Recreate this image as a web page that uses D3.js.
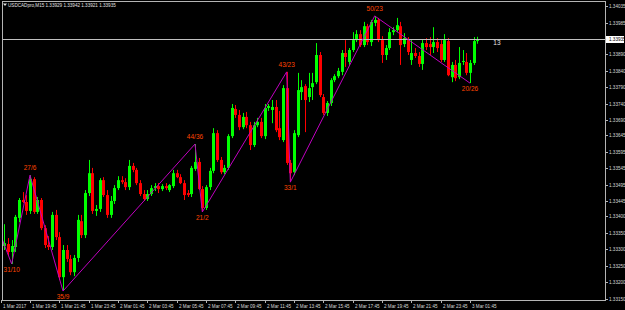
<!DOCTYPE html>
<html>
<head>
<meta charset="utf-8">
<script src="https://cdn.jsdelivr.net/npm/d3@7/dist/d3.min.js"></script>
<style>
body { margin: 0; background: #000; }
svg { display: block; }
text { font-family: "Liberation Sans", Arial, sans-serif; }
</style>
</head>
<body>
<svg id="chart" width="625" height="310"></svg>
<script>
// USDCADpro M15, one value per bar
var opens = [1.33449,1.33310,1.33316,1.33292,1.33307,1.33395,1.33449,1.33443,1.33416,1.33512,
	1.33413,1.33449,1.33364,1.33313,1.33307,1.33404,1.33337,1.33216,1.33298,1.33271,
	1.33231,1.33274,1.33385,1.33343,1.33470,1.33530,1.33416,1.33422,1.33509,1.33464,
	1.33404,1.33446,1.33485,1.33509,1.33503,1.33488,1.33552,1.33540,1.33500,1.33467,
	1.33452,1.33467,1.33485,1.33491,1.33482,1.33491,1.33479,1.33491,1.33530,1.33518,
	1.33500,1.33470,1.33467,1.33543,1.33564,1.33482,1.33425,1.33488,1.33537,1.33651,
	1.33570,1.33533,1.33546,1.33642,1.33724,1.33706,1.33669,1.33700,1.33675,1.33615,
	1.33675,1.33685,1.33642,1.33727,1.33721,1.33730,1.33666,1.33630,1.33787,1.33561,
	1.33533,1.33645,1.33775,1.33793,1.33760,1.33790,1.33805,1.33887,1.33760,1.33712,
	1.33742,1.33811,1.33823,1.33836,1.33893,1.33866,1.33902,1.33932,1.33950,1.33917,
	1.33974,1.33926,1.33984,1.33993,1.33932,1.33887,1.33908,1.33956,1.33962,1.33974,
	1.33920,1.33932,1.33872,1.33893,1.33884,1.33860,1.33923,1.33920,1.33911,1.33926,
	1.33920,1.33872,1.33929,1.33820,1.33857,1.33820,1.33866,1.33866,1.33833,1.33863,
	1.33929];
var highs = [1.33464,1.33376,1.33334,1.33328,1.33404,1.33455,1.33473,1.33464,1.33524,1.33518,
	1.33458,1.33455,1.33373,1.33340,1.33413,1.33419,1.33352,1.33313,1.33313,1.33283,
	1.33283,1.33404,1.33404,1.33479,1.33570,1.33546,1.33434,1.33515,1.33518,1.33479,
	1.33461,1.33494,1.33521,1.33521,1.33515,1.33570,1.33561,1.33546,1.33509,1.33479,
	1.33479,1.33494,1.33500,1.33500,1.33497,1.33500,1.33497,1.33540,1.33540,1.33527,
	1.33509,1.33479,1.33552,1.33618,1.33576,1.33491,1.33494,1.33546,1.33666,1.33660,
	1.33579,1.33555,1.33648,1.33739,1.33736,1.33721,1.33712,1.33715,1.33685,1.33685,
	1.33697,1.33697,1.33739,1.33739,1.33751,1.33751,1.33718,1.33796,1.33836,1.33570,
	1.33660,1.33833,1.33811,1.33799,1.33833,1.33833,1.33923,1.33896,1.33769,1.33748,
	1.33817,1.33829,1.33848,1.33902,1.33932,1.33908,1.33956,1.33962,1.33962,1.33987,
	1.33981,1.33993,1.34005,1.33999,1.33944,1.33917,1.33968,1.33971,1.33999,1.33987,
	1.33953,1.33941,1.33932,1.33908,1.33896,1.33932,1.33938,1.33941,1.33971,1.33938,
	1.33932,1.33950,1.33938,1.33866,1.33872,1.33911,1.33902,1.33893,1.33872,1.33941,
	1.33942];
var lows = [1.33304,1.33298,1.33280,1.33256,1.33292,1.33382,1.33440,1.33404,1.33407,1.33407,
	1.33407,1.33358,1.33304,1.33298,1.33298,1.33328,1.33207,1.33174,1.33262,1.33222,
	1.33219,1.33262,1.33334,1.33334,1.33461,1.33407,1.33401,1.33413,1.33458,1.33395,
	1.33395,1.33437,1.33479,1.33497,1.33479,1.33479,1.33533,1.33494,1.33461,1.33446,
	1.33446,1.33461,1.33476,1.33470,1.33476,1.33479,1.33473,1.33485,1.33515,1.33497,
	1.33449,1.33458,1.33458,1.33537,1.33479,1.33413,1.33419,1.33479,1.33530,1.33564,
	1.33527,1.33527,1.33540,1.33636,1.33697,1.33660,1.33663,1.33666,1.33600,1.33609,
	1.33669,1.33636,1.33633,1.33718,1.33681,1.33654,1.33630,1.33624,1.33555,1.33503,
	1.33524,1.33639,1.33751,1.33654,1.33745,1.33751,1.33799,1.33760,1.33706,1.33703,
	1.33733,1.33805,1.33817,1.33826,1.33851,1.33857,1.33896,1.33926,1.33911,1.33911,
	1.33917,1.33914,1.33974,1.33926,1.33863,1.33872,1.33902,1.33947,1.33956,1.33857,
	1.33911,1.33887,1.33857,1.33878,1.33851,1.33842,1.33902,1.33887,1.33893,1.33896,
	1.33866,1.33866,1.33823,1.33805,1.33808,1.33814,1.33857,1.33826,1.33802,1.33857,
	1.33921];
var closes = [1.33313,1.33319,1.33292,1.33310,1.33398,1.33449,1.33443,1.33416,1.33512,1.33413,
	1.33449,1.33364,1.33313,1.33307,1.33404,1.33337,1.33216,1.33298,1.33271,1.33231,
	1.33274,1.33389,1.33343,1.33470,1.33530,1.33416,1.33422,1.33509,1.33464,1.33404,
	1.33446,1.33485,1.33509,1.33503,1.33488,1.33552,1.33540,1.33500,1.33467,1.33452,
	1.33467,1.33485,1.33491,1.33482,1.33491,1.33485,1.33494,1.33530,1.33518,1.33500,
	1.33464,1.33464,1.33546,1.33564,1.33482,1.33425,1.33488,1.33537,1.33651,1.33570,
	1.33533,1.33546,1.33642,1.33727,1.33706,1.33669,1.33700,1.33675,1.33615,1.33675,
	1.33685,1.33642,1.33727,1.33733,1.33730,1.33660,1.33639,1.33787,1.33561,1.33530,
	1.33651,1.33781,1.33790,1.33751,1.33787,1.33802,1.33887,1.33766,1.33712,1.33742,
	1.33811,1.33823,1.33839,1.33893,1.33881,1.33902,1.33932,1.33950,1.33917,1.33974,
	1.33926,1.33987,1.33993,1.33932,1.33887,1.33908,1.33956,1.33962,1.33977,1.33917,
	1.33938,1.33896,1.33893,1.33884,1.33860,1.33923,1.33911,1.33911,1.33926,1.33908,
	1.33872,1.33932,1.33826,1.33857,1.33817,1.33863,1.33869,1.33833,1.33863,1.33929,
	1.33935];

// zigzag turning points (bar index, price, label); first one lies left of the window
var zzBars = [-2, 3, 8, 17, 53, 55, 78, 79, 102, 128];
var zzPrices = [1.33399, 1.33256, 1.33524, 1.33174, 1.33618, 1.33413, 1.33836, 1.33503, 1.34005, 1.33802];
var zzLabels = ["", "31/10", "27/6", "35/9", "44/36", "21/2", "43/23", "33/1", "50/23", "20/26"];

var priceTicks = ["1.34035","1.33985","1.33890","1.33840","1.33790","1.33740","1.33690","1.33645",
	"1.33595","1.33545","1.33495","1.33445","1.33400","1.33350","1.33300","1.33250","1.33200","1.33150"];
var timeTickBars = [0, 8, 16, 24, 32, 40, 48, 56, 64, 72, 80, 88, 96, 104, 112, 120, 128];
var timeTickLabels = ["1 Mar 2017","1 Mar 19:45","1 Mar 21:45","1 Mar 23:45","2 Mar 01:45","2 Mar 03:45",
	"2 Mar 05:45","2 Mar 07:45","2 Mar 09:45","2 Mar 11:45","2 Mar 13:45","2 Mar 15:45","2 Mar 17:45",
	"2 Mar 19:45","2 Mar 21:45","2 Mar 23:45","3 Mar 01:45"];

var c_left = 2, c_right = 605, c_top = 1, c_bottom = 300;
var frameColor = "#b4b4b4";
var upColor = "#00ff00", downColor = "#ff0000";

var svg = d3.select("#chart");
svg.append("rect").attr("width", 625).attr("height", 310).style("fill", "#000");

var x = d3.scaleLinear().domain([0, 128]).range([0.67, 470]);
var y = d3.scaleLinear().domain([1.33150, 1.34035]).range([299, 6]);

svg.append("clipPath").attr("id", "plot")
	.append("rect")
	.attr("x", c_left).attr("y", c_top)
	.attr("width", c_right - c_left).attr("height", c_bottom - c_top);

var plot = svg.append("g").attr("clip-path", "url(#plot)");

var bars = d3.range(opens.length);

// wicks
plot.selectAll(".wick")
	.data(bars)
	.enter()
	.append("line")
	.attr("class", "wick")
	.attr("x1", function(i) { return Math.round(x(i)) + 0.5; })
	.attr("x2", function(i) { return Math.round(x(i)) + 0.5; })
	.attr("y1", function(i) { return y(highs[i]); })
	.attr("y2", function(i) { return y(lows[i]); })
	.style("stroke", function(i) { return closes[i] >= opens[i] ? upColor : downColor; })
	.style("stroke-width", 1);

// bodies
plot.selectAll(".body")
	.data(bars)
	.enter()
	.append("rect")
	.attr("class", "body")
	.attr("x", function(i) { return Math.round(x(i)) - 1; })
	.attr("y", function(i) { return y(Math.max(opens[i], closes[i])); })
	.attr("width", 3)
	.attr("height", function(i) { return Math.max(1, Math.abs(y(opens[i]) - y(closes[i]))); })
	.style("fill", function(i) { return closes[i] >= opens[i] ? upColor : downColor; });

// current price line
var last = closes[closes.length - 1];
plot.append("line")
	.attr("x1", c_left).attr("x2", c_right)
	.attr("y1", Math.round(y(last)) + 0.5).attr("y2", Math.round(y(last)) + 0.5)
	.style("stroke", "#c0c0c0")
	.style("stroke-width", 1);

// zigzag
var zz = zzBars.map(function(b, k) { return { bar: b, price: zzPrices[k], label: zzLabels[k] }; });
var zzLine = d3.line()
	.x(function(d) { return x(d.bar); })
	.y(function(d) { return y(d.price); });
plot.append("path")
	.datum(zz)
	.attr("d", zzLine)
	.style("fill", "none")
	.style("stroke", "#c000c0")
	.style("stroke-width", 1);

plot.selectAll(".zzlab")
	.data(zz.slice(1))
	.enter()
	.append("text")
	.attr("class", "zzlab")
	.attr("x", function(d) { return x(d.bar); })
	.attr("y", function(d, k) {
		var prev = zz[k];
		return d.price > prev.price ? y(d.price) - 5 : y(d.price) + 8;
	})
	.style("text-anchor", "middle")
	.style("font-size", "6.5px")
	.style("fill", "#ff4500")
	.text(function(d) { return d.label; });

// countdown
svg.append("text")
	.attr("x", x(130) + 16)
	.attr("y", y(last) + 6)
	.style("font-size", "6.5px")
	.style("fill", "#e8e8e8")
	.text("13");

// frame
svg.append("rect")
	.attr("x", c_left + 0.5).attr("y", c_top + 0.5)
	.attr("width", c_right - c_left).attr("height", c_bottom - c_top)
	.style("fill", "none")
	.style("stroke", frameColor);

// price axis
var pAxis = svg.append("g");
priceTicks.forEach(function(t) {
	var py = Math.round(y(+t)) + 0.5;
	pAxis.append("line")
		.attr("x1", c_right).attr("x2", c_right + 3)
		.attr("y1", py).attr("y2", py)
		.style("stroke", frameColor);
	pAxis.append("text")
		.attr("x", c_right + 4)
		.attr("y", py + 1.7)
		.style("font-size", "4.6px")
		.style("fill", "#d8d8d8")
		.text(t);
});

var ly = Math.round(y(last)) + 0.5;
pAxis.append("rect")
	.attr("x", c_right + 1).attr("y", ly - 3.5)
	.attr("width", 18).attr("height", 7)
	.style("fill", "#ffffff");
pAxis.append("text")
	.attr("x", c_right + 4)
	.attr("y", ly + 1.7)
	.style("font-size", "4.6px")
	.style("fill", "#000")
	.text(d3.format(".5f")(last));

// time axis
var tAxis = svg.append("g");
timeTickBars.forEach(function(b, k) {
	var tx = Math.round(x(b)) + 0.5;
	tAxis.append("line")
		.attr("x1", tx).attr("x2", tx)
		.attr("y1", c_bottom).attr("y2", c_bottom + 3)
		.style("stroke", frameColor);
	tAxis.append("text")
		.attr("x", tx + 1.5)
		.attr("y", c_bottom + 7.5)
		.style("font-size", "4.6px")
		.style("fill", "#d8d8d8")
		.text(timeTickLabels[k]);
});

// header
svg.append("path")
	.attr("d", "M3,3.5 L7,3.5 L5,6 Z")
	.style("fill", "#e0e0e0");
svg.append("text")
	.attr("x", 8)
	.attr("y", 6.5)
	.style("font-size", "4.6px")
	.style("fill", "#e0e0e0")
	.text("USDCADpro,M15  1.33929 1.33942 1.33921 1.33935");
</script>
</body>
</html>
